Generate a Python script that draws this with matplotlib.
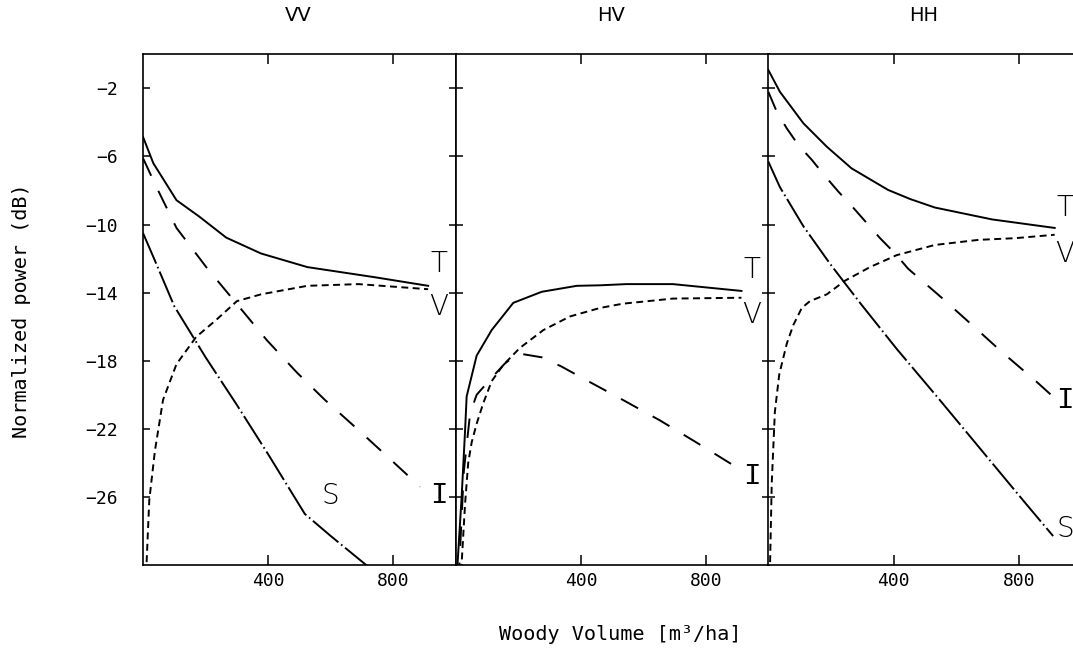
import matplotlib
matplotlib.use("Agg")
import matplotlib.pyplot as plt

plt.rcParams['lines.scale_dashes'] = False

# ---------------- data ----------------
panels = ["VV", "HV", "HH"]

# VV
vv_t_x = [0, 33, 107, 181, 266, 377, 525, 742, 911]
vv_t_y = [-4.85, -6.4, -8.57, -9.55, -10.77, -11.7, -12.5, -13.1, -13.6]
vv_v_x = [10, 20, 38, 64, 107, 170, 234, 300, 377, 525, 689, 911]
vv_v_y = [-30.5, -26.2, -23.3, -20.3, -18.2, -16.6, -15.6, -14.5, -14.1, -13.6, -13.5, -13.8]
vv_i_x = [0, 43, 107, 202, 308, 396, 492, 581, 684, 779, 885]
vv_i_y = [-6.1, -7.8, -10.2, -12.5, -14.85, -16.8, -18.7, -20.3, -22.0, -23.6, -25.4]
vv_s_x = [0, 33, 100, 200, 300, 400, 517, 600, 693, 780]
vv_s_y = [-10.5, -11.9, -14.8, -17.8, -20.6, -23.5, -27.0, -28.3, -29.7, -31.0]

# HV
hv_t_x = [3, 18, 29, 34, 66, 114, 183, 274, 386, 460, 544, 693, 912]
hv_t_y = [-30.5, -26.0, -22.1, -20.1, -17.7, -16.2, -14.6, -13.95, -13.6, -13.57, -13.5, -13.5, -13.9]
hv_v_x = [10, 18, 29, 39, 50, 66, 87, 114, 151, 204, 279, 364, 460, 533, 693, 912]
hv_v_y = [-31.0, -29.9, -26.4, -24.0, -22.8, -21.7, -20.5, -19.2, -18.25, -17.25, -16.2, -15.4, -14.9, -14.65, -14.35, -14.3]
hv_i_x = [8, 25, 45, 66, 114, 157, 199, 274, 338, 402, 523, 651, 768, 900]
hv_i_y = [-31.0, -24.5, -21.1, -20.0, -19.0, -18.15, -17.57, -17.8, -18.35, -19.0, -20.2, -21.5, -22.8, -24.3]

# HH
hh_t_x = [0, 37, 112, 187, 266, 383, 453, 532, 715, 915]
hh_t_y = [-0.92, -2.2, -4.05, -5.43, -6.7, -7.97, -8.5, -9.0, -9.7, -10.2]
hh_v_x = [5, 11, 21, 35, 59, 80, 107, 133, 187, 245, 325, 410, 532, 672, 790, 915]
hh_v_y = [-30.5, -25.2, -21.0, -18.8, -17.0, -15.9, -14.9, -14.5, -14.1, -13.3, -12.5, -11.8, -11.2, -10.9, -10.8, -10.6]
hh_i_x = [0, 27, 59, 96, 139, 181, 224, 266, 314, 357, 405, 447, 554, 651, 747, 855, 915]
hh_i_y = [-2.2, -3.37, -4.35, -5.33, -6.2, -7.15, -8.07, -8.9, -9.9, -10.8, -11.7, -12.6, -14.3, -15.9, -17.5, -19.2, -20.2]
hh_s_x = [0, 37, 112, 197, 293, 410, 543, 683, 823, 910]
hh_s_y = [-6.3, -7.8, -10.1, -12.3, -14.6, -17.3, -20.2, -23.3, -26.4, -28.3]

# curve labels (text, x, y) per panel
vv_labels = [("T", 946, -12.3), ("V", 946, -14.85), ("I", 946, -25.9), ("S", 597, -25.95)]
hv_labels = [("T", 945, -12.7), ("V", 945, -15.3), ("I", 945, -24.8)]
hh_labels = [("T", 948, -9.0), ("V", 948, -11.75), ("I", 948, -20.3), ("S", 948, -27.9)]

xticks = [400, 800]
yticks = [-2, -6, -10, -14, -18, -22, -26]
xlabel = "Woody Volume [m\u00b3/ha]"
ylabel = "Normalized power (dB)"

panel_data = [
    dict(T=(vv_t_x, vv_t_y), V=(vv_v_x, vv_v_y), I=(vv_i_x, vv_i_y), S=(vv_s_x, vv_s_y), labels=vv_labels),
    dict(T=(hv_t_x, hv_t_y), V=(hv_v_x, hv_v_y), I=(hv_i_x, hv_i_y), labels=hv_labels),
    dict(T=(hh_t_x, hh_t_y), V=(hh_v_x, hh_v_y), I=(hh_i_x, hh_i_y), S=(hh_s_x, hh_s_y), labels=hh_labels),
]

styles = {
    "T": dict(linestyle="-"),
    "V": dict(dashes=(5, 3.2)),
    "I": dict(dashes=(14, 12)),
    "S": dict(dashes=(24, 2.5, 1.2, 2.5)),
}

# ---------------- figure ----------------
W, H = 1073, 653
fig = plt.figure(figsize=(W / 100, H / 100), dpi=100)

lefts = [143, 456, 768.3]
ax_w = 313
bottom_px = H - 565
ax_h = 565 - 54.3

mono = "DejaVu Sans Mono"

for k, (name, left, pdata) in enumerate(zip(panels, lefts, panel_data)):
    ax = fig.add_axes([left / W, bottom_px / H, ax_w / W, ax_h / H])
    ax.set_xlim(0, 1000)
    ax.set_ylim(-30, 0)
    for key in ["T", "V", "I", "S"]:
        if key in pdata:
            xs, ys = pdata[key]
            ax.plot(xs, ys, color="black", lw=1.4, **styles[key])
    for txt, tx, ty in pdata["labels"]:
        if txt == "I":
            ax.text(tx, ty, txt, ha="center", va="center", fontsize=21,
                    family="Liberation Mono", color="black", clip_on=False)
        else:
            ax.text(tx, ty, txt, ha="center", va="center", fontsize=20,
                    family="DejaVu Sans", fontweight="light", color="black", clip_on=False)

    for sp in ax.spines.values():
        sp.set_linewidth(1.2)
    ax.set_xticks(xticks)
    ax.set_xticklabels([str(v) for v in xticks], family=mono, fontsize=13)
    ax.set_yticks(yticks)
    if k == 0:
        ax.set_yticklabels(["\u2212" + str(abs(v)) for v in yticks], family=mono, fontsize=13)
    else:
        ax.set_yticklabels([])
    ax.tick_params(axis="x", direction="in", top=True, bottom=True, length=7.5, width=1.1, pad=5)
    ax.tick_params(axis="y", direction="in", left=True, right=True, length=5, width=1.1, pad=18)
    ax.text(0.495, 1.075, name, transform=ax.transAxes, ha="center", va="center",
            fontsize=14, family="DejaVu Sans")

fig.text(620 / W, 1 - 635 / H, xlabel, ha="center", va="center", fontsize=14.5, family=mono)
fig.text(22 / W, 1 - 310.5 / H, ylabel, ha="center", va="center", rotation=90, fontsize=14.5, family=mono)

fig.savefig("out.png", dpi=100)
